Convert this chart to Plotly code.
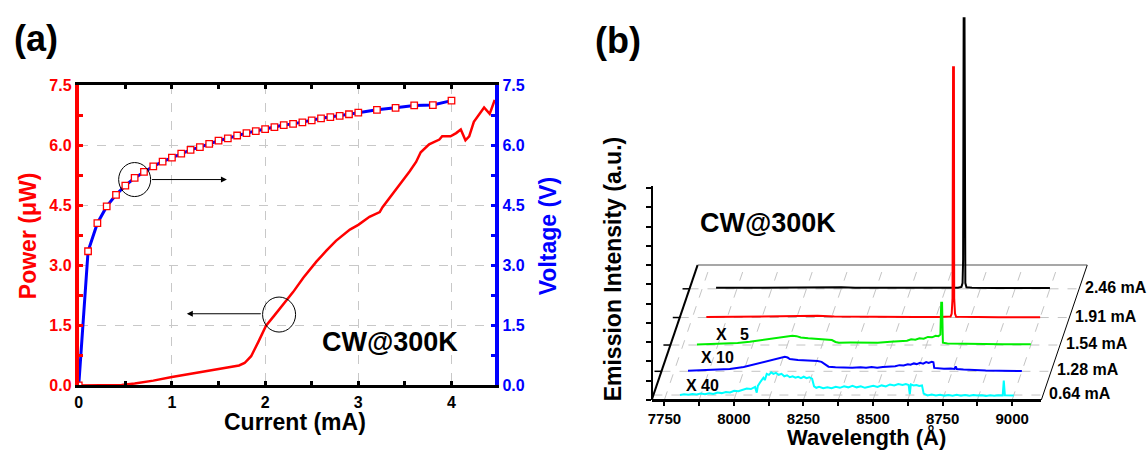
import plotly.graph_objects as go

W, H = 1148, 458
FONT = "Liberation Sans, Arial, Helvetica, sans-serif"

# ---------------- Panel (a): L-I-V data ----------------
vi_current = [0.0, 0.1, 0.2, 0.3, 0.4, 0.5, 0.6, 0.7, 0.8, 0.9, 1.0, 1.1, 1.2, 1.3, 1.4,
              1.5, 1.6, 1.7, 1.8, 1.9, 2.0, 2.1, 2.2, 2.3, 2.4, 2.5, 2.6, 2.7, 2.8, 2.9,
              3.0, 3.2, 3.4, 3.6, 3.8, 4.0]
vi_voltage = [0.0, 3.35, 4.05, 4.47, 4.76, 4.99, 5.18, 5.33, 5.47, 5.59, 5.69, 5.79, 5.88,
              5.95, 6.03, 6.11, 6.17, 6.24, 6.30, 6.35, 6.40, 6.45, 6.50, 6.53, 6.57, 6.62,
              6.67, 6.70, 6.73, 6.77, 6.81, 6.88, 6.93, 6.99, 7.00, 7.11]

li_current = [0.0, 0.3, 0.46, 0.6, 0.8, 1.0, 1.2, 1.4, 1.6, 1.72, 1.78, 1.85, 1.93, 2.01,
              2.1, 2.19, 2.3, 2.41, 2.55, 2.66, 2.76, 2.91, 3.0, 3.12, 3.23, 3.26, 3.37,
              3.48, 3.55, 3.62, 3.67, 3.76, 3.87, 3.9, 3.99, 4.05, 4.1, 4.15, 4.19, 4.24,
              4.3, 4.35, 4.41, 4.46, 4.5]
li_power = [0.0, 0.0, 0.01, 0.05, 0.12, 0.21, 0.29, 0.37, 0.45, 0.50, 0.56, 0.73, 1.10, 1.49,
            1.75, 2.01, 2.33, 2.69, 3.09, 3.37, 3.61, 3.89, 4.01, 4.21, 4.33, 4.45, 4.78,
            5.10, 5.34, 5.58, 5.82, 6.02, 6.14, 6.22, 6.22, 6.30, 6.39, 6.12, 6.22, 6.58,
            6.78, 6.94, 6.78, 7.10, 7.08]

a_xticks = [0, 1, 2, 3, 4]
a_yticks = [0.0, 1.5, 3.0, 4.5, 6.0, 7.5]

# ---------------- Panel (b): EL spectra (displayed, scaled intensities, a.u.) ----------------
series_labels = ["2.46 mA", "1.91 mA", "1.54 mA", "1.28 mA", "0.64 mA"]
series_colors = ["#000000", "#ff0000", "#00ee00", "#0000ff", "#00ffff"]
scale_labels = ["", "", "X\u00a0\u00a0\u00a05", "X 10", "X 40"]

wl_246 = [7800, 7900, 8000, 8100, 8200, 8250, 8300, 8400, 8500, 8600, 8670, 8682, 8686,
          8688, 8690, 8693, 8694, 8696, 8700, 8720, 8800, 8900, 9000]
int_246 = [1.0, 1.2, 1.0, 1.3, 1.5, 1.6, 1.2, 1.0, 1.1, 1.0, 1.2, 2.0, 6.0,
           30.0, 281.0, 281.0, 30.0, 6.0, 1.5, 1.0, 0.9, 1.0, 0.9]

wl_191 = [7800, 7900, 8000, 8100, 8150, 8200, 8260, 8350, 8450, 8550, 8640, 8678, 8682,
          8685, 8687, 8690, 8691, 8694, 8698, 8750, 8850, 9000]
int_191 = [0.5, 0.8, 1.0, 1.6, 2.0, 1.8, 1.0, 0.7, 0.6, 0.5, 0.6, 1.0, 4.0,
           20.0, 260.0, 260.0, 20.0, 4.0, 0.8, 0.5, 0.4, 0.3]

wl_154 = [7800, 7850, 7900, 7946, 7990, 8041, 8075, 8101, 8125, 8143, 8158, 8173, 8200,
          8240, 8268, 8285, 8298, 8310, 8352, 8400, 8450, 8495, 8520, 8540, 8555, 8570,
          8585, 8600, 8615, 8630, 8645, 8658, 8668, 8675, 8678, 8681, 8684, 8700, 8750,
          8800, 8850, 8900, 8950, 9000]
int_154 = [0.5, 0.9, 1.4, 2.0, 3.3, 5.5, 7.3, 8.5, 9.3, 9.6, 9.2, 7.8, 7.0,
           6.5, 6.0, 5.2, 3.2, 2.3, 2.5, 2.2, 2.4, 3.4, 4.0, 4.8, 4.4, 6.0,
           5.6, 7.0, 6.6, 8.4, 8.0, 9.6, 9.2, 11.0, 44.0, 44.0, 2.5, 1.5, 1.2,
           1.0, 1.0, 0.8, 0.9, 0.8]

wl_128 = [7800, 7850, 7900, 7950, 8000, 8030, 8060, 8090, 8115, 8135, 8148, 8158, 8166,
          8195, 8230, 8266, 8280, 8292, 8305, 8330, 8360, 8390, 8420, 8440, 8460, 8480,
          8500, 8515, 8530, 8545, 8560, 8575, 8590, 8600, 8612, 8622, 8634, 8645, 8656,
          8665, 8676, 8682, 8685, 8700, 8720, 8745, 8758, 8762, 8766, 8790, 8827, 8870,
          8920, 8960, 9000]
int_128 = [0.5, 1.0, 1.6, 2.5, 4.5, 6.5, 8.8, 10.5, 12.5, 14.0, 15.0, 14.3, 12.8,
           11.8, 11.3, 10.6, 9.8, 7.0, 4.8, 4.3, 4.0, 3.8, 4.2, 3.6, 4.4, 3.8,
           4.6, 4.8, 5.6, 5.2, 6.4, 6.0, 7.4, 6.8, 8.2, 7.5, 8.8, 8.0, 9.6,
           8.8, 10.0, 9.5, 3.5, 3.0, 2.6, 2.8, 2.4, 5.0, 2.4, 1.8, 1.2, 0.8,
           0.6, 0.3, 0.2]

wl_064 = [7800, 7815, 7830, 7845, 7860, 7875, 7890, 7905, 7920, 7935, 7950, 7965, 7980,
          7995, 8010, 8025, 8040, 8055, 8070, 8076, 8080, 8090, 8100, 8105, 8112, 8120,
          8128, 8136, 8145, 8155, 8165, 8175, 8185, 8195, 8205, 8215, 8225, 8235, 8245,
          8255, 8265, 8275, 8282, 8290, 8300, 8315, 8330, 8345, 8360, 8375, 8390, 8405,
          8420, 8435, 8450, 8465, 8480, 8495, 8510, 8525, 8540, 8555, 8570, 8585, 8600,
          8612, 8622, 8626, 8630, 8640, 8650, 8660, 8670, 8676, 8690, 8705, 8720, 8735,
          8750, 8765, 8780, 8795, 8810, 8825, 8840, 8855, 8870, 8885, 8900, 8915, 8930,
          8945, 8960, 8964, 8968, 8980, 9000]
int_064 = [0.0, 0.8, 0.2, 1.0, 0.5, 1.5, 0.8, 1.8, 1.2, 2.5, 2.0, 3.2, 2.6,
           4.5, 4.0, 5.5, 6.8, 6.2, 8.5, 2.5, 9.5, 14.0, 18.0, 15.5, 22.0, 21.0,
           23.5, 22.0, 23.0, 21.0, 22.0, 19.5, 20.5, 18.5, 19.5, 18.0, 19.0, 17.5, 19.0,
           17.5, 18.5, 17.0, 9.0, 7.5, 8.5, 7.0, 8.0, 7.0, 8.5, 7.5, 9.0, 8.0,
           9.5, 8.0, 9.0, 7.5, 8.5, 9.5, 8.5, 10.0, 9.0, 11.0, 10.0, 11.5, 10.5,
           11.5, 10.5, 1.0, 11.0, 10.0, 10.5, 9.5, 10.0, 1.5, -0.5, 0.5, -0.5, 0.3,
           -0.8, 0.0, -0.7, 0.2, -0.6, 0.0, -0.8, 0.0, -0.5, -0.2, -0.9, -0.3, -0.8,
           -0.2, -0.5, 15.0, -0.3, -0.6, -0.4]

spec_wl = [wl_246, wl_191, wl_154, wl_128, wl_064]
spec_int = [int_246, int_191, int_154, int_128, int_064]
wl_ticks = [7750, 8000, 8250, 8500, 8750, 9000]

# ---------------- layout helpers (pixel geometry) ----------------
def px(x):
    return x / W

def py(y):
    return 1 - y / H

# panel (b) pseudo-3D geometry
B_LEFT_PX, B_RIGHT_PX, B_FRONT_PX = 650, 1041, 407
A_PER_PX = 3.582                      # wavelength units per pixel
WL_LEFT = 7704.5                      # wavelength at the front-left corner
WL_RIGHT = WL_LEFT + (B_RIGHT_PX - B_LEFT_PX) * A_PER_PX
DEPTH_DX_PX, DEPTH_DY_PX = 46, 140    # full depth offset of the floor
DEPTH = [0.824, 0.611, 0.407, 0.212, 0.036]   # depth position of each spectrum
DWL = DEPTH_DX_PX * A_PER_PX

fig = go.Figure()

# ---------------- Panel (a) traces ----------------
fig.add_trace(go.Scatter(x=li_current, y=li_power, mode="lines",
                         line=dict(color="#ff0000", width=2.5),
                         xaxis="x", yaxis="y", showlegend=False, hoverinfo="skip"))
fig.add_trace(go.Scatter(x=vi_current, y=vi_voltage, mode="lines+markers",
                         line=dict(color="#0000ff", width=3),
                         marker=dict(symbol="square", size=6.5, color="white",
                                     line=dict(color="#ff0000", width=1.3)),
                         xaxis="x", yaxis="y5", showlegend=False, hoverinfo="skip"))

# ---------------- Panel (b) traces ----------------
for i in range(len(spec_wl)):
    f = DEPTH[i]
    fig.add_trace(go.Scatter(
        x=[w + f * DWL for w in spec_wl[i]],
        y=[v + f * DEPTH_DY_PX for v in spec_int[i]],
        mode="lines", line=dict(color=series_colors[i], width=2),
        xaxis="x2", yaxis="y2", showlegend=False, hoverinfo="skip"))

# helper (empty) trace so the visible panel (b) axes are drawn
fig.add_trace(go.Scatter(x=[], y=[], xaxis="x3", yaxis="y3", showlegend=False))

shapes = []
# floor outline
shapes.append(dict(type="line", xref="x2", yref="y2", x0=WL_LEFT + DWL, y0=DEPTH_DY_PX,
                   x1=WL_RIGHT + DWL, y1=DEPTH_DY_PX, line=dict(color="#8a8a8a", width=1.5),
                   layer="below"))
shapes.append(dict(type="line", xref="x2", yref="y2", x0=WL_LEFT, y0=0,
                   x1=WL_LEFT + DWL, y1=DEPTH_DY_PX, line=dict(color="black", width=2)))
shapes.append(dict(type="line", xref="x2", yref="y2", x0=WL_RIGHT, y0=0,
                   x1=WL_RIGHT + DWL, y1=DEPTH_DY_PX, line=dict(color="black", width=1)))
# floor grid (every 125 A)
g = 7750
while g <= 9000:
    shapes.append(dict(type="line", xref="x2", yref="y2", x0=g, y0=0, x1=g + DWL,
                       y1=DEPTH_DY_PX, line=dict(color="#c4c4c4", width=1, dash="dash"),
                       layer="below"))
    g += 125
# baselines + depth ticks
for i, f in enumerate(DEPTH):
    shapes.append(dict(type="line", xref="x2", yref="y2", x0=WL_LEFT + f * DWL,
                       y0=f * DEPTH_DY_PX, x1=WL_RIGHT + f * DWL, y1=f * DEPTH_DY_PX,
                       line=dict(color="#c4c4c4", width=1, dash="dash"), layer="below"))
    if f > 0.1:
        shapes.append(dict(type="line", xref="x2", yref="y2",
                           x0=WL_LEFT + f * DWL - 7 * A_PER_PX, y0=f * DEPTH_DY_PX,
                           x1=WL_LEFT + f * DWL, y1=f * DEPTH_DY_PX,
                           line=dict(color="black", width=1.5)))

# circles in panel (a)
shapes.append(dict(type="circle", xref="x", yref="y", xsizemode="pixel", ysizemode="pixel",
                   xanchor=0.6, yanchor=5.14, x0=-16, x1=16, y0=-17, y1=17,
                   line=dict(color="black", width=1)))
shapes.append(dict(type="circle", xref="x", yref="y", xsizemode="pixel", ysizemode="pixel",
                   xanchor=2.15, yanchor=1.77, x0=-16.5, x1=16.5, y0=-17.5, y1=17.5,
                   line=dict(color="black", width=1)))

ann = []
def text(x, y, s, size, color="black", angle=0, xanchor="center"):
    ann.append(dict(x=px(x), y=py(y), xref="paper", yref="paper", text=s, showarrow=False,
                    textangle=angle, xanchor=xanchor, yanchor="middle",
                    font=dict(family=FONT, size=size, color=color, weight="bold")))

text(32.5, 31.5, "(a)", 36)
text(616, 34, "(b)", 36)
text(24, 236, "Power (\u03bcW)", 23, "#ff0000", -90)
text(546, 237, "Voltage (V)", 23, "#0000ff", -90)
text(292.5, 430, "Current (mA)", 23)
text(387.5, 346.5, "CW@300K", 27)
text(767, 223, "CW@300K", 27)
text(612, 270.5, "Emission Intensity (a.u.)", 23, "black", -90)
text(866, 446, "Wavelength (\u00c5)", 22)

for i, f in enumerate(DEPTH):
    text(B_RIGHT_PX + f * DEPTH_DX_PX + 4, B_FRONT_PX - f * DEPTH_DY_PX - 1.5,
         series_labels[i], 16, xanchor="left")
scale_pos = {2: (712, 339), 3: (697, 363), 4: (682, 392)}
for i, (x, y) in scale_pos.items():
    text(x, y, scale_labels[i], 16, xanchor="left")

# arrows in panel (a)
ann.append(dict(x=1.59, y=5.14, ax=0.77, ay=5.14, xref="x", yref="y", axref="x", ayref="y",
                text="", showarrow=True, arrowhead=2, arrowsize=1.2, arrowwidth=1,
                arrowcolor="black"))
ann.append(dict(x=1.16, y=1.79, ax=1.97, ay=1.79, xref="x", yref="y", axref="x", ayref="y",
                text="", showarrow=True, arrowhead=2, arrowsize=1.2, arrowwidth=1,
                arrowcolor="black"))

tickf = lambda c, s=16: dict(family=FONT, size=s, color=c, weight="bold")

fig.update_layout(
    width=W, height=H, autosize=False,
    margin=dict(l=0, r=0, t=0, b=0, pad=0),
    paper_bgcolor="white", plot_bgcolor="rgba(0,0,0,0)",
    font=dict(family=FONT),
    showlegend=False,
    shapes=shapes, annotations=ann,
    xaxis=dict(domain=[px(75), px(493)], range=[0, 4.47], anchor="y",
               tickvals=a_xticks, ticks="inside", ticklen=4, tickwidth=2.5, tickcolor="black",
               minor=dict(dtick=0.5, tick0=0, ticks="inside", ticklen=4, tickwidth=2.5,
                          tickcolor="black", showgrid=False),
               showline=True, linecolor="black", linewidth=3, mirror="allticks",
               showgrid=True, gridcolor="#c8c8c8", griddash="dash", gridwidth=1,
               zeroline=False, tickfont=tickf("black"), fixedrange=True),
    yaxis=dict(domain=[py(392), py(80)], range=[0, 7.5], anchor="x",
               tickvals=a_yticks, tickformat=".1f", ticks="inside", ticklen=4, tickwidth=2.5,
               tickcolor="#ff0000",
               minor=dict(dtick=0.75, tick0=0, ticks="inside", ticklen=4, tickwidth=2.5,
                          tickcolor="#ff0000", showgrid=False),
               showline=True, linecolor="#ff0000", linewidth=4,
               showgrid=True, gridcolor="#c8c8c8", griddash="dash", gridwidth=1,
               zeroline=False, tickfont=tickf("#ff0000"), fixedrange=True),
    yaxis5=dict(overlaying="y", side="right", anchor="x", range=[0, 7.5],
                tickvals=a_yticks, tickformat=".1f", ticks="inside", ticklen=4, tickwidth=2.5,
                tickcolor="#0000ff",
                minor=dict(dtick=0.75, tick0=0, ticks="inside", ticklen=4, tickwidth=2.5,
                           tickcolor="#0000ff", showgrid=False),
                showline=True, linecolor="#0000ff", linewidth=4, showgrid=False,
                zeroline=False, tickfont=tickf("#0000ff"), fixedrange=True),
    xaxis2=dict(domain=[px(600), 1.0], anchor="y2",
                range=[WL_LEFT - 50 * A_PER_PX, WL_LEFT + (W - B_LEFT_PX) * A_PER_PX],
                visible=False, fixedrange=True),
    yaxis2=dict(domain=[0.0, 1.0], anchor="x2", range=[B_FRONT_PX - H, B_FRONT_PX],
                visible=False, fixedrange=True),
    xaxis3=dict(domain=[px(B_LEFT_PX), px(B_RIGHT_PX)], anchor="free", position=py(B_FRONT_PX),
                range=[WL_LEFT, WL_RIGHT], tickvals=wl_ticks, ticks="outside", ticklen=4,
                tickwidth=1.5, tickcolor="black",
                minor=dict(dtick=125, tick0=7750, ticks="outside", ticklen=4, tickwidth=1.5,
                           tickcolor="black", showgrid=False),
                showline=True, linecolor="black", linewidth=2.5, showgrid=False,
                zeroline=False, tickfont=tickf("black", 15), fixedrange=True),
    yaxis3=dict(domain=[py(B_FRONT_PX), py(185)], anchor="free", position=px(B_LEFT_PX),
                range=[0, B_FRONT_PX - 185], dtick=20, tick0=0, ticks="outside", ticklen=5,
                tickwidth=1.5, tickcolor="black", showticklabels=False,
                showline=True, linecolor="black", linewidth=2, showgrid=False,
                zeroline=False, fixedrange=True),
)

fig.write_html(
    "out.html",
    include_plotlyjs=True,
    config={"responsive": False, "displayModeBar": False},
    post_script="document.body.style.margin='0';document.body.style.padding='0';"
                "document.documentElement.style.overflow='hidden';",
)
